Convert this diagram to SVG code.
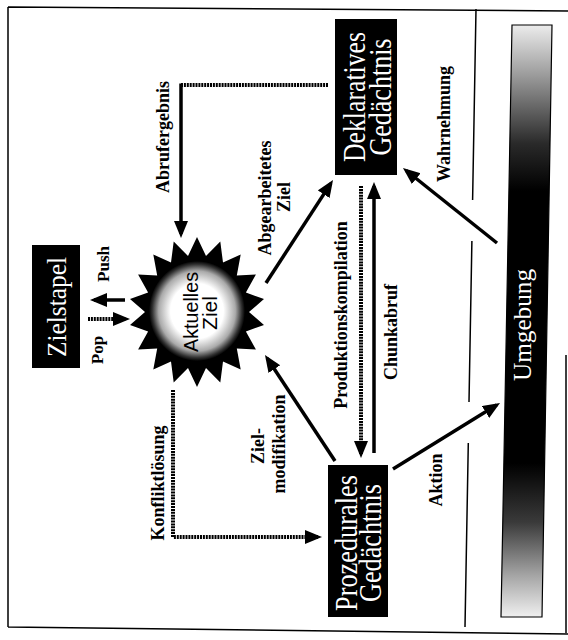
<svg xmlns="http://www.w3.org/2000/svg" width="568" height="640" viewBox="0 0 568 640">
<style>
.lbl{font-family:"Liberation Serif","Times New Roman",serif;font-size:18px;font-weight:bold;fill:#000;text-anchor:middle}
.bt{font-family:"Liberation Serif","Times New Roman",serif;font-size:31px;fill:#fff;text-anchor:middle}
.st{font-family:"Liberation Sans",Arial,sans-serif;font-size:21px;fill:#000;text-anchor:middle}
.solid{stroke:#000;stroke-width:3.5;fill:none}
.dot{stroke:#000;stroke-width:4;stroke-dasharray:2 0.9;fill:none}
.frame{stroke:#000;stroke-width:1.5;fill:none}
</style>
<defs>
<marker id="ah" markerUnits="userSpaceOnUse" markerWidth="18" markerHeight="15" refX="13" refY="7" orient="auto">
<path d="M0,0 L17,7 L0,14 z" fill="#000"/>
</marker>
<radialGradient id="sun" cx="0.5" cy="0.5" r="0.5">
<stop offset="0" stop-color="#fff"/>
<stop offset="0.55" stop-color="#fff"/>
<stop offset="0.8" stop-color="#aaa"/>
<stop offset="0.93" stop-color="#333"/>
<stop offset="1" stop-color="#000"/>
</radialGradient>
<linearGradient id="env" x1="0" y1="0" x2="0" y2="1">
<stop offset="0" stop-color="#ececec"/>
<stop offset="0.08" stop-color="#a0a0a0"/>
<stop offset="0.2" stop-color="#2a2a2a"/>
<stop offset="0.28" stop-color="#000"/>
<stop offset="0.74" stop-color="#000"/>
<stop offset="0.84" stop-color="#3a3a3a"/>
<stop offset="0.93" stop-color="#a5a5a5"/>
<stop offset="1" stop-color="#f0f0f0"/>
</linearGradient>
</defs>
<rect width="568" height="640" fill="#fff"/>
<g id="frame">
<path class="frame" d="M8,7 L568,11 M8,7 L8,627 M8,627 L568,634 M566,355 L566,633"/>
<path class="frame" d="M476,9 L472.6,200 M471.9,241 L469,402 M468.3,443 L465,627"/>
</g>
<g id="umgebung">
<polygon points="512,25 552,25 542,617 501,617" fill="url(#env)" stroke="#000" stroke-width="1.2"/>
<text class="bt" style="font-size:25px" transform="translate(531,325) rotate(-90)" textLength="112" lengthAdjust="spacingAndGlyphs">Umgebung</text>
</g>
<g id="deklaratives">
<rect x="335" y="19" width="62" height="156" fill="#000"/>
<text class="bt" transform="translate(365,97) rotate(-90)" textLength="130" lengthAdjust="spacingAndGlyphs">Deklaratives</text>
<text class="bt" transform="translate(391,97) rotate(-90)" textLength="117" lengthAdjust="spacingAndGlyphs">Gedächtnis</text>
</g>
<g id="prozedurales">
<rect x="328" y="465" width="60" height="152" fill="#000"/>
<text class="bt" transform="translate(357,543) rotate(-90)" textLength="136" lengthAdjust="spacingAndGlyphs">Prozedurales</text>
<text class="bt" transform="translate(381,543) rotate(-90)" textLength="118" lengthAdjust="spacingAndGlyphs">Gedächtnis</text>
</g>
<g id="zielstapel">
<rect x="32" y="245" width="48" height="123" fill="#000"/>
<text class="bt" style="font-size:27px" transform="translate(66,307) rotate(-90)" textLength="100" lengthAdjust="spacingAndGlyphs">Zielstapel</text>
</g>
<g id="aktuelles-ziel">
<polygon fill="#000" points="197,237 206,255.9 220.3,241.5 223,262.6 240.7,254.5 236.8,275.4 255.9,274.5 245.9,292.5 264,299 249,312 264,325 245.9,331.5 255.9,349.5 236.8,348.6 240.7,369.5 223,361.4 220.3,382.5 206,368.1 197,387 188,368.1 173.7,382.5 171,361.4 153.3,369.5 157.2,348.6 138.1,349.5 148.1,331.5 130,325 145,312 130,299 148.1,292.5 138.1,274.5 157.2,275.4 153.3,254.5 171,262.6 173.7,241.5 188,255.9"/>
<ellipse cx="197" cy="311" rx="48" ry="50" fill="url(#sun)"/>
<text class="st" transform="translate(198,312) rotate(-90)" textLength="80" lengthAdjust="spacingAndGlyphs">Aktuelles</text>
<text class="st" transform="translate(217,313) rotate(-90)">Ziel</text>
</g>
<g id="connectors">
<path class="dot" d="M328,85 H181"/>
<path class="solid" d="M181,83.5 V234" marker-end="url(#ah)"/>
<path class="solid" d="M266,283 L330.8,183.4" marker-end="url(#ah)"/>
<path class="dot" d="M173,390 V537 H318" marker-end="url(#ah)"/>
<path class="solid" d="M335,461 L267.2,358.3" marker-end="url(#ah)"/>
<path class="dot" d="M361,186 V454" marker-end="url(#ah)"/>
<path class="solid" d="M374,453 V186" marker-end="url(#ah)"/>
<path class="solid" d="M497,243 L406.1,170.5" marker-end="url(#ah)"/>
<path class="solid" d="M393,469 L496.6,405.1" marker-end="url(#ah)"/>
<path class="solid" d="M125,300 H94" marker-end="url(#ah)"/>
<path class="dot" d="M88,319 H126" marker-end="url(#ah)"/>
</g>
<g id="labels">
<text class="lbl" transform="translate(169,137) rotate(-90)">Abrufergebnis</text>
<text class="lbl" transform="translate(271,198) rotate(-90)">Abgearbeitetes</text>
<text class="lbl" transform="translate(290,197) rotate(-90)">Ziel</text>
<text class="lbl" transform="translate(164,483) rotate(-90)">Konfliktlösung</text>
<text class="lbl" transform="translate(264,446) rotate(-90)">Ziel-</text>
<text class="lbl" transform="translate(285,444) rotate(-90)">modifikation</text>
<text class="lbl" transform="translate(347,315) rotate(-90)">Produktionskompilation</text>
<text class="lbl" transform="translate(397,332) rotate(-90)">Chunkabruf</text>
<text class="lbl" transform="translate(450,124) rotate(-90)">Wahrnehmung</text>
<text class="lbl" transform="translate(442,480) rotate(-90)">Aktion</text>
<text class="lbl" style="font-size:17px" transform="translate(109,264) rotate(-90)">Push</text>
<text class="lbl" style="font-size:17px" transform="translate(103,350) rotate(-90)">Pop</text>
</g>
</svg>
